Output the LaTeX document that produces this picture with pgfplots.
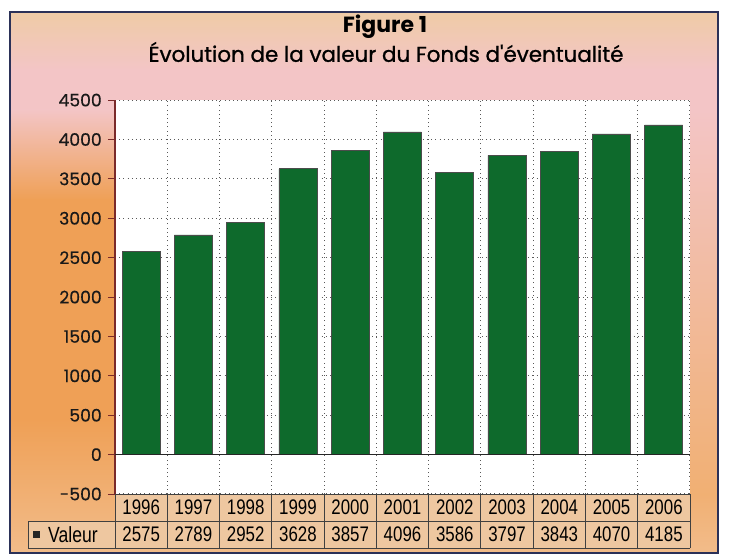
\documentclass[border=0pt]{standalone}
\usepackage{pgfplots}
\pgfplotsset{compat=1.18}
\usepackage{fontspec}
\setmainfont{Poppins}
\newfontfamily\titlefont[FakeBold=1.0]{Poppins}
\newfontfamily\tickfont[FakeBold=0.4]{Poppins}
\newfontfamily\tabfont[FakeStretch=0.8]{Liberation Sans}
\definecolor{bargreen}{HTML}{0E6A2C}
\definecolor{peach}{HTML}{EFCBA6}
\definecolor{pinkish}{HTML}{F3C5C6}
\definecolor{orangebg}{HTML}{EFA056}
\definecolor{lightorange}{HTML}{F2BC8A}
\definecolor{coral}{HTML}{EE7A5C}
\definecolor{framecol}{HTML}{2B3158}
\definecolor{cellfill}{HTML}{EEC7A0}
\definecolor{yaxiscol}{HTML}{7A2A2A}
\begin{document}
\begin{tikzpicture}[x=0.02cm,y=0.02cm]
\useasboundingbox (0,0) rectangle (729,557);
\fill[white] (0,0) rectangle (729,557);
% background
\shade[top color=peach,bottom color=pinkish] (10,487) rectangle (718,545);
\fill[pinkish] (10,447) rectangle (718,487.5);
\shade[top color=pinkish,bottom color=orangebg] (10,357) rectangle (718,447.5);
\fill[orangebg] (10,137) rectangle (718,357.5);
\shade[top color=orangebg,bottom color=lightorange] (10,4) rectangle (718,137.5);
\shade[top color=pinkish, middle color=coral, bottom color=lightorange!56!orangebg] (689,63) rectangle (717,447);
\draw[framecol,line width=0.04cm] (10,4) rectangle (718,545);
% titles
\node[font=\bfseries\fontsize{12.5}{14}\selectfont] at (385,530) {Figure 1};
\node[font=\titlefont\fontsize{12.2}{14}\selectfont] at (386,505) {Évolution de la valeur du Fonds d'éventualité};
\begin{axis}[
  at={(2.3cm,1.26cm)}, anchor=south west,
  scale only axis, width=11.5cm, height=7.88cm,
  xmin=-0.5, xmax=10.5, ymin=-500, ymax=4500,
  axis background/.style={fill=white},
  axis x line*=bottom,
  x axis line style={draw=none},
  axis y line*=left,
  y axis line style={yaxiscol,line width=0.6pt,-},
  ytick={-500,0,...,4500},
  yticklabel style={font=\tickfont\fontsize{9.8}{11}\selectfont, text=black!90},
  /pgf/number format/assume math mode=true,
  /pgf/number format/1000 sep={},
  ytick style={yaxiscol,line width=0.5pt},
  xtick style={draw=none},
  major tick length=4pt,
  tick align=outside,
  ytick pos=left,
  xtick={-0.5,0.5,...,10.5},
  xticklabels={},
  ymajorgrids=true,
  xmajorgrids=true,
  major grid style={dotted, black!65, line width=0.6pt},
  clip=false,
]
\addplot[ybar, bar width=0.76cm, fill=bargreen, draw=black!70, line width=0.4pt]
  coordinates {(0,2575) (1,2789) (2,2952) (3,3628) (4,3857) (5,4096) (6,3586) (7,3797) (8,3843) (9,4070) (10,4185)};
\draw[black!85, line width=0.8pt] (axis cs:-0.5,0) -- (axis cs:10.5,0);
\end{axis}
% data table
\def\yrs{1996,1997,1998,1999,2000,2001,2002,2003,2004,2005,2006}
\def\vals{2575,2789,2952,3628,3857,4096,3586,3797,3843,4070,4185}
\fill[cellfill] (115,36) rectangle (690,63);
\fill[cellfill] (28,9) rectangle (690,36);
\draw[black!75,line width=0.5pt] (115,63) -- (690,63);
\draw[black!75,line width=0.5pt] (28,36) -- (690,36);
\draw[black!75,line width=0.5pt] (28,9) -- (690,9);
\draw[black!75,line width=0.5pt] (28,9) -- (28,36);
\foreach \i in {0,...,11} {
  \draw[black!75,line width=0.5pt] ({115+\i*52.2727},9) -- ({115+\i*52.2727},63);
}
\foreach \y [count=\i from 0] in \yrs {
  \node[font=\tabfont\fontsize{12}{13}\selectfont] at ({115+(\i+0.5)*52.2727},49.5) {\y};
}
\foreach \v [count=\i from 0] in \vals {
  \node[font=\tabfont\fontsize{12}{13}\selectfont] at ({115+(\i+0.5)*52.2727},22.5) {\v};
}
\fill[black!85] (33,19) rectangle (40,26);
\node[font=\tabfont\fontsize{12.5}{13}\selectfont, anchor=west] at (42,22.5) {Valeur};
\end{tikzpicture}
\end{document}
